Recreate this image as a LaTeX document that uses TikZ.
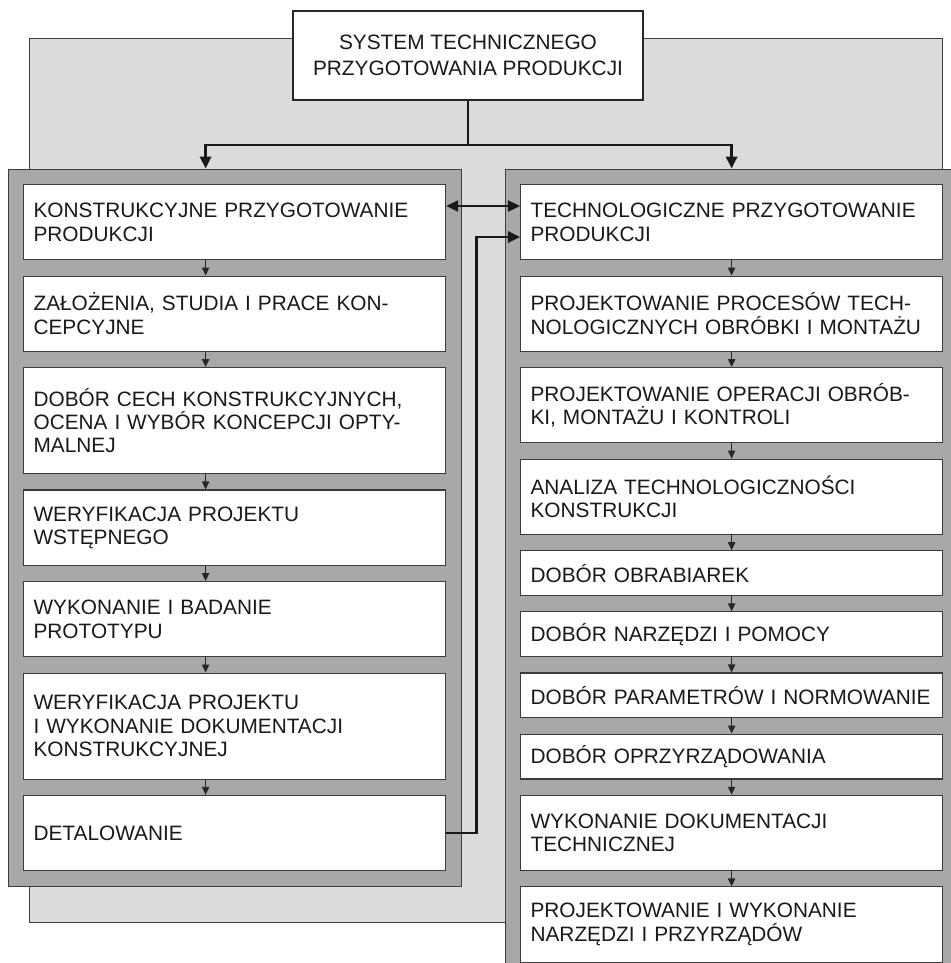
\documentclass[tikz,border=0pt]{standalone}
\usepackage{fontspec}
\setmainfont{Liberation Sans}
\usepackage{tikz}
\usetikzlibrary{arrows.meta, positioning, fit, backgrounds, calc}
\definecolor{sheetgray}{HTML}{DCDCDC}
\definecolor{panelgray}{HTML}{A8A8A8}
\definecolor{edgegray}{HTML}{3C3C3C}
\hfuzz=20pt
\newcommand{\boxfont}{\fontsize{14.8}{16.6}\selectfont}
\tikzstyle{stage} = [rectangle, draw=edgegray, line width=0.8pt, fill=white, text width=10.05cm, inner xsep=0.25cm, inner ysep=0pt, minimum height=1.88cm, align=left, font=\boxfont, text=black!90]
\tikzstyle{shortstage} = [stage, minimum height=1.12cm]
\tikzstyle{longstage} = [stage, minimum height=2.65cm]
\tikzstyle{head} = [rectangle, draw=black!85, line width=1.4pt, fill=white, minimum width=8.75cm, minimum height=2.225cm, align=center, font=\fontsize{14.8}{18.9}\selectfont, text=black!90]
\tikzstyle{panel} = [rectangle, draw=edgegray, line width=0.6pt, fill=panelgray, inner sep=0.375cm]
\tikzstyle{flow} = [line width=1.8pt, -{Triangle[length=0.3cm, width=0.28cm]}, color=black!90]
\tikzstyle{steparrow} = [line width=1.1pt, -{Triangle[length=0.2cm, width=0.18cm]}, color=black!85]
\tikzstyle{twoway} = [line width=1.2pt, {Triangle[length=0.3cm, width=0.28cm]}-{Triangle[length=0.3cm, width=0.28cm]}, color=black!90]

\begin{document}
\begin{tikzpicture}[x=0.025cm, y=-0.025cm, node distance=0.38cm]
    \useasboundingbox (0,0) rectangle (950,963);

    \node[head] (system) at (468,55.5) {SYSTEM TECHNICZNEGO\\PRZYGOTOWANIA PRODUKCJI};

    % konstrukcyjne
    \node[stage, anchor=north west] (k1) at (23,184) {KONSTRUKCYJNE PRZYGOTOWANIE\\PRODUKCJI};
    \node[stage, below=of k1] (k2) {ZAŁOŻENIA, STUDIA I PRACE KON-\\CEPCYJNE};
    \node[longstage, below=of k2] (k3) {DOBÓR CECH KONSTRUKCYJNYCH,\\OCENA I WYBÓR KONCEPCJI OPTY-\\MALNEJ};
    \node[stage, below=of k3] (k4) {WERYFIKACJA PROJEKTU\\WSTĘPNEGO};
    \node[stage, below=of k4] (k5) {WYKONANIE I BADANIE\\PROTOTYPU};
    \node[longstage, below=of k5] (k6) {WERYFIKACJA PROJEKTU\\I WYKONANIE DOKUMENTACJI\\KONSTRUKCYJNEJ};
    \node[stage, below=of k6] (k7) {DETALOWANIE};

    % technologiczne
    \node[stage, anchor=north west] (t1) at (520,184) {TECHNOLOGICZNE PRZYGOTOWANIE\\PRODUKCJI};
    \node[stage, below=of t1] (t2) {PROJEKTOWANIE PROCESÓW TECH-\\NOLOGICZNYCH OBRÓBKI I MONTAŻU};
    \node[stage, below=of t2] (t3) {PROJEKTOWANIE OPERACJI OBRÓB-\\KI, MONTAŻU I KONTROLI};
    \node[stage, below=of t3] (t4) {ANALIZA TECHNOLOGICZNOŚCI\\KONSTRUKCJI};
    \node[shortstage, below=of t4] (t5) {DOBÓR OBRABIAREK};
    \node[shortstage, below=of t5] (t6) {DOBÓR NARZĘDZI I POMOCY};
    \node[shortstage, below=of t6] (t7) {DOBÓR PARAMETRÓW I NORMOWANIE};
    \node[shortstage, below=of t7] (t8) {DOBÓR OPRZYRZĄDOWANIA};
    \node[stage, below=of t8] (t9) {WYKONANIE DOKUMENTACJI\\TECHNICZNEJ};
    \node[stage, below=of t9] (t10) {PROJEKTOWANIE I WYKONANIE\\NARZĘDZI I PRZYRZĄDÓW};

    \begin{scope}[on background layer]
        \draw[draw=edgegray, line width=0.6pt, fill=sheetgray] (29,38) rectangle (942,922);
        \node[panel, fit=(k1)(k7)] (kpanel) {};
        \node[panel, fit=(t1)(t10)] (tpanel) {};
    \end{scope}

    \coordinate (fork) at ([yshift=-1.1cm]system.south);
    \coordinate (kx) at ([xshift=-0.725cm]k1.north);
    \draw[flow] (system.south) -- (fork) -| (kx |- kpanel.north);
    \draw[flow] (fork) -| (t1.north |- tpanel.north);

    \foreach \a/\b in {k1/k2, k2/k3, k3/k4, k4/k5, k5/k6, k6/k7}
        \draw[steparrow] ([xshift=-0.725cm]\a.south) -- ([xshift=-0.725cm]\b.north);
    \foreach \a/\b in {t1/t2, t2/t3, t3/t4, t4/t5, t5/t6, t6/t7, t7/t8, t8/t9, t9/t10}
        \draw[steparrow] (\a.south) -- (\b.north);

    \draw[twoway] ([yshift=-0.55cm]k1.north east) -- ([yshift=-0.55cm]t1.north west);
    \draw[flow] (k7.east) -- ++(0.75cm,0) |- ([yshift=-1.325cm]t1.north west);
\end{tikzpicture}
\end{document}
